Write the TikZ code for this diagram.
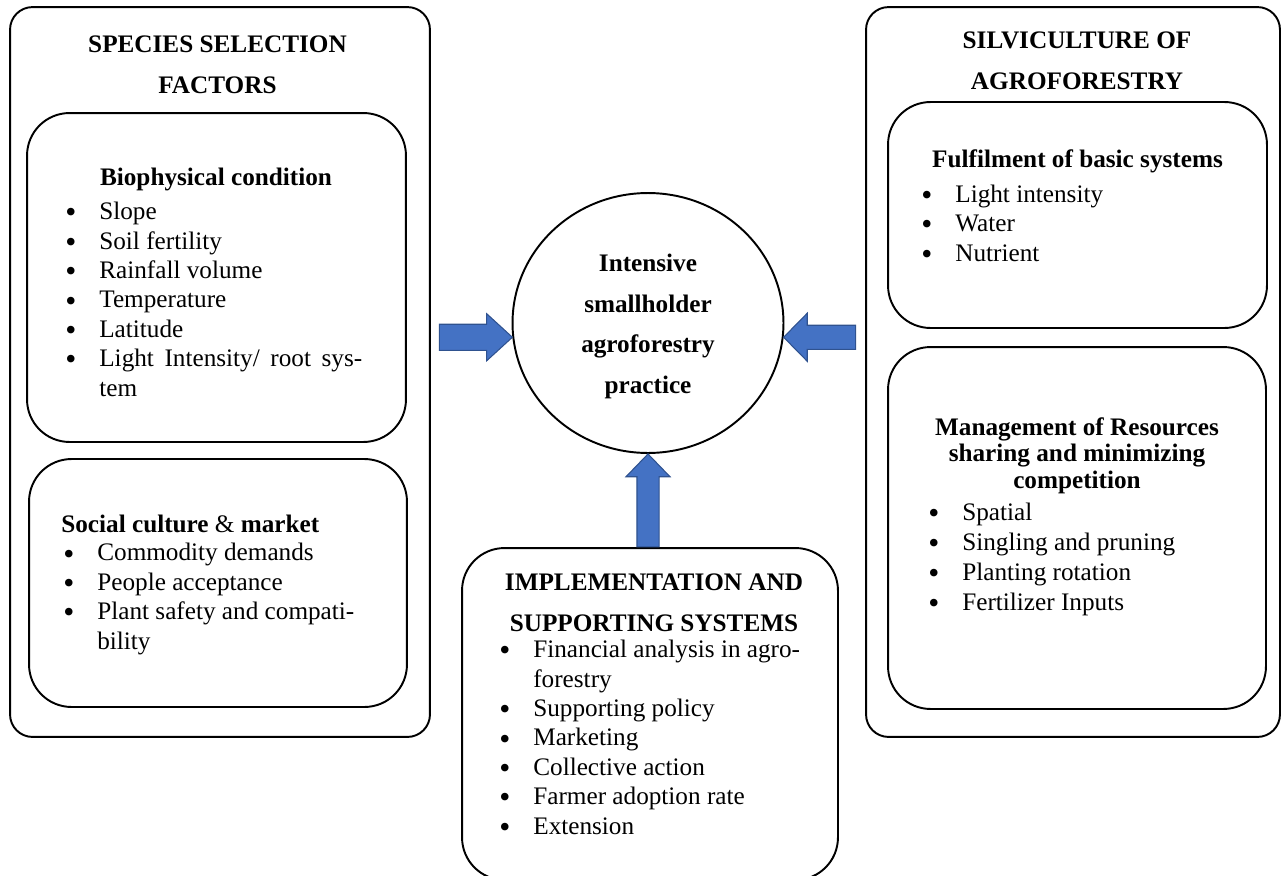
\documentclass[tikz,border=0pt]{standalone}
\usepackage{fontspec}
\usepackage{graphicx}
\setmainfont{Liberation Serif}
\usetikzlibrary{shapes.geometric,shapes.arrows,positioning,calc}
\definecolor{arrowfill}{HTML}{4472C4}
\definecolor{arrowline}{HTML}{2F528F}
\newcommand{\bitem}{\makebox[0.68cm][l]{\raisebox{-0.12em}{\scalebox{1.25}{\textbullet}}}}

\begin{document}
\begin{tikzpicture}[x=0.02cm, y=-0.02cm,
  outer/.style={draw, line width=1.1pt, rounded corners=0.45cm, inner sep=0, outer sep=0},
  inbox/.style={draw, line width=1.1pt, rounded corners=0.85cm, inner sep=0, outer sep=0},
  hdr/.style={font=\bfseries\fontsize{14.35}{23}\selectfont, align=center, inner sep=0, anchor=base},
  sub/.style={font=\bfseries\fontsize{14.35}{15}\selectfont, align=center, inner sep=0, anchor=base},
  lst/.style={font=\fontsize{14.35}{16.7}\selectfont, align=left, anchor=base west, inner sep=0},
  blk/.style={single arrow, draw=arrowline, fill=arrowfill, line width=0.6pt, minimum width=0, outer sep=0, anchor=tip}
]
  \useasboundingbox (0,0) rectangle (1282,876);

  % boxes
  \node[outer, minimum width=8.4cm, minimum height=14.6cm] (species) at (220,372) {};
  \node[inbox, minimum width=7.58cm, minimum height=6.58cm] (bio) at (216.5,277.5) {};
  \node[inbox, minimum width=7.56cm, minimum height=4.96cm] (social) at (218,583) {};
  \node[outer, minimum width=8.28cm, minimum height=14.6cm] (silvi) at (1073,372) {};
  \node[inbox, minimum width=7.58cm, minimum height=4.52cm] (fulfil) at (1077.5,215) {};
  \node[inbox, minimum width=7.56cm, minimum height=7.24cm] (manage) at (1077,528) {};
  \node[inbox, minimum width=7.52cm, minimum height=6.64cm] (impl) at (650,714) {};
  \node[ellipse, draw, line width=1.1pt, minimum width=5.42cm, minimum height=5.2cm, inner sep=0] (core) at (648,323) {};

  % titles (placed at the baseline of their last line)
  \node[hdr] (speciestitle) at (217.5,93) {SPECIES SELECTION\\FACTORS};
  \node[sub] (biotitle) at (216,185) {Biophysical condition};
  \node[sub, anchor=base west] (socialtitle) at (61,532) {Social culture {\mdseries\&} market};
  \node[hdr] (silvititle) at (1077,89) {SILVICULTURE OF\\AGROFORESTRY};
  \node[sub] (fulfiltitle) at (1077.5,167) {Fulfilment of basic systems};
  \node[sub] (managetitle) at (1077,488) {Management of Resources\\sharing and minimizing\\competition};
  \node[hdr] (impltitle) at (654,631) {IMPLEMENTATION AND\\SUPPORTING SYSTEMS};
  \node[hdr] (coretxt) at (648,393) {Intensive\\smallholder\\agroforestry\\practice};

  % lists
  \node[lst] (biolist) at (65,396) {\bitem Slope\\ \bitem Soil fertility\\ \bitem Rainfall volume\\
    \bitem Temperature\\ \bitem Latitude\\
    \bitem \makebox[5.26cm][s]{Light Intensity/ root sys-}\\ \hspace*{0.68cm}tem};
  \node[lst] (sociallist) at (63,649) {\bitem Commodity demands\\ \bitem People acceptance\\
    \bitem Plant safety and compati-\\ \hspace*{0.68cm}bility};
  \node[lst] (fulfillist) at (921,261) {\bitem Light intensity\\ \bitem Water\\ \bitem Nutrient};
  \node[lst, font=\fontsize{14.35}{17}\selectfont] (managelist) at (928,610) {\bitem Spatial\\ \bitem Singling and pruning\\
    \bitem Planting rotation\\ \bitem Fertilizer Inputs};
  \node[lst] (impllist) at (499,834) {\bitem Financial analysis in agro-\\ \hspace*{0.68cm}forestry\\
    \bitem Supporting policy\\ \bitem Marketing\\ \bitem Collective action\\
    \bitem Farmer adoption rate\\ \bitem Extension};

  % block arrows into the practice
  \node[blk, minimum height=1.46cm, inner xsep=0, inner ysep=0.25cm,
    single arrow head extend=0.21cm, single arrow tip angle=85] (arrL) at (core.186) {};
  \node[blk, shape border rotate=180, minimum height=1.44cm, inner xsep=0, inner ysep=0.23cm,
    single arrow head extend=0.24cm, single arrow tip angle=91] (arrR) at (core.354) {};
  \node[blk, shape border rotate=90, minimum height=1.86cm, inner sep=0.21cm,
    single arrow head extend=0.22cm, single arrow tip angle=88] (arrU) at (core.south) {};
\end{tikzpicture}
\end{document}
